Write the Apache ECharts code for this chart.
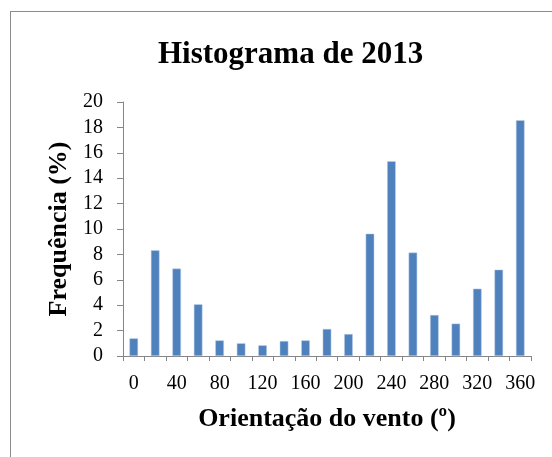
<!DOCTYPE html>
<html>
<head>
<meta charset="utf-8">
<script src="https://cdn.jsdelivr.net/npm/echarts@6/dist/echarts.min.js"></script>
<style>
  html, body { margin: 0; padding: 0; background: #fff; }
  #frame { position: absolute; left: 10px; top: 11px; width: 600px; height: 500px; border: 1px solid #8c8c8c; }
  #chart-main { position: absolute; left: 0; top: 0; width: 552px; height: 457px; }
</style>
</head>
<body>
<div id="frame"></div>
<div id="chart-main"></div>
<script>
// orientações (graus) e frequência (%)
const categories = ['0', '20', '40', '60', '80', '100', '120', '140', '160', '180',
  '200', '220', '240', '260', '280', '300', '320', '340', '360']
const frequencia = [1.39, 8.32, 6.88, 4.07, 1.23, 1.0, 0.84, 1.18, 1.23, 2.13,
  1.73, 9.63, 15.33, 8.14, 3.23, 2.55, 5.3, 6.8, 18.56]
const yTicks = { min: 0, max: 20, step: 2 }

const serif = '"Liberation Serif", "Times New Roman", serif'
const axisGrey = '#868686'

const myChart = echarts.init(document.getElementById('chart-main'))
myChart.setOption({
  animation: false,
  title: {
    text: 'Histograma de 2013',
    left: 153,
    top: 34,
    textStyle: { fontFamily: serif, fontSize: 31, fontWeight: 'bold', color: '#000' }
  },
  grid: { left: 123, right: 21, top: 102, bottom: 101 },
  xAxis: {
    type: 'category',
    data: categories,
    name: 'Orientação do vento (º)',
    nameLocation: 'middle',
    nameGap: 50,
    nameTextStyle: { fontFamily: serif, fontSize: 26, fontWeight: 'bold', color: '#000' },
    axisLine: { lineStyle: { color: axisGrey, width: 1 } },
    axisTick: { show: true, interval: 0, length: 5, lineStyle: { color: axisGrey } },
    axisLabel: { interval: 1, margin: 18, fontFamily: serif, fontSize: 20, color: '#000' }
  },
  yAxis: {
    type: 'value',
    min: yTicks.min,
    max: yTicks.max,
    interval: yTicks.step,
    name: 'Frequência (%)',
    nameLocation: 'middle',
    nameRotate: 90,
    nameGap: 49,
    nameTextStyle: { fontFamily: serif, fontSize: 26, fontWeight: 'bold', color: '#000' },
    splitLine: { show: false },
    axisLine: { show: true, lineStyle: { color: axisGrey, width: 1 } },
    axisTick: { show: true, length: 6, lineStyle: { color: axisGrey } },
    axisLabel: { margin: 20, fontFamily: serif, fontSize: 20, color: '#000' }
  },
  series: [
    {
      type: 'bar',
      data: frequencia,
      barWidth: '40%',
      itemStyle: { color: '#4f81bd', borderColor: '#bcd0ea', borderWidth: 0.5 }
    }
  ]
})
</script>
</body>
</html>
